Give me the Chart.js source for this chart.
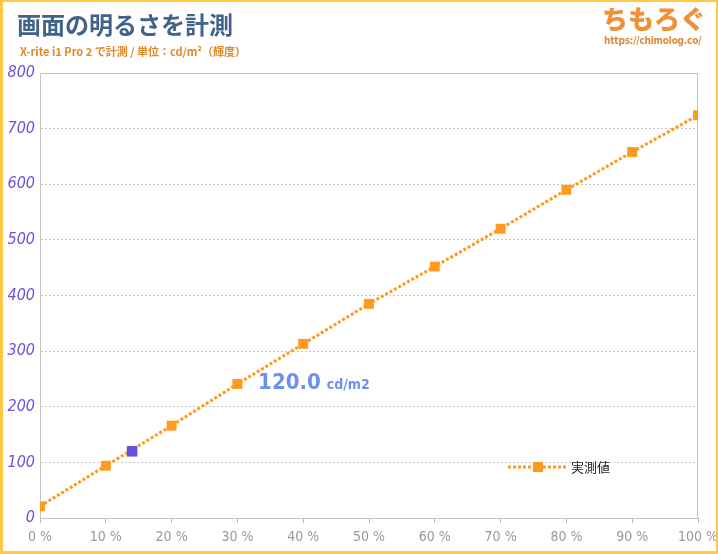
<!DOCTYPE html>
<html><head><meta charset="utf-8">
<script src="https://cdn.jsdelivr.net/npm/chart.js@4/dist/chart.umd.min.js"></script>
<style>
html,body{margin:0;padding:0;background:#fff;}
#wrap{position:relative;width:718px;height:554px;box-sizing:border-box;overflow:hidden;}
#frame{position:absolute;left:0;top:0;width:718px;height:554px;box-sizing:border-box;border:3px solid #FFC845;border-width:2px 2px 3px 3px;pointer-events:none;}
canvas{position:absolute;left:0;top:0;}
.t{position:absolute;white-space:nowrap;font-family:"Noto Sans CJK JP","Noto Sans",sans-serif;}
#title{left:17px;top:6px;font-size:24px;font-weight:700;color:#41628a;}
#sub{left:20px;top:43px;font-size:11px;font-weight:700;color:#e0882a;}
#logo{left:602px;top:-1px;font-size:26px;font-weight:900;color:#f0913a;}
#url{left:604px;top:35px;font-size:10px;letter-spacing:-0.2px;font-weight:700;color:#d98a3a;font-family:"DejaVu Sans Condensed","Roboto",sans-serif;}
</style></head>
<body><div id="wrap">
<canvas id="c" width="718" height="554"></canvas>
<div class="t" id="title">画面の明るさを計測</div>
<div class="t" id="sub">X-rite i1 Pro 2 で計測 / 単位：cd/m²（輝度）</div>
<div class="t" id="logo">ちもろぐ</div>
<div class="t" id="url">https://chimolog.co/</div>
<div id="frame"></div>
</div>
<script>
const xLevels = [0,10,20,30,40,50,60,70,80,90,100];
const measured = [21,94,166,241,313,385,452,520,590,658,724];
const seriesName = "実測値";
const highlightX = [14];
const highlightY = [120];
const highlightLabel = "120.0";
const highlightUnit = "cd/m2";

const ORANGE = "#ff9a1e";
const PURPLE = "#6a4fdc";
const NARROW = "'DejaVu Sans Condensed','Roboto Condensed','Roboto',sans-serif";

const overlay = {
  id:'overlay',
  afterDatasetsDraw(chart){
    const ctx = chart.ctx;
    const xs = chart.scales.x, ys = chart.scales.y;
    const px = xs.getPixelForValue(highlightX[0]);
    const py = ys.getPixelForValue(highlightY[0]);
    ctx.save();
    ctx.fillStyle = "#6f8ff0";
    ctx.textBaseline = "alphabetic";
    ctx.font = "bold 22px " + NARROW;
    const ax = px + 126, ay = py - 62;
    ctx.fillText(highlightLabel, ax, ay);
    const w = ctx.measureText(highlightLabel).width;
    ctx.font = "bold 14px " + NARROW;
    ctx.fillText(highlightUnit, ax + w + 6, ay);
    // legend
    const ly = 467;
    ctx.strokeStyle = ORANGE;
    ctx.lineWidth = 3;
    ctx.setLineDash([3,2]);
    ctx.beginPath(); ctx.moveTo(508, ly); ctx.lineTo(567, ly); ctx.stroke();
    ctx.setLineDash([]);
    ctx.fillStyle = ORANGE;
    ctx.fillRect(533, ly-5, 10, 10);
    ctx.fillStyle = "#222";
    ctx.font = "13px 'Noto Sans CJK JP',sans-serif";
    ctx.textBaseline = "middle";
    ctx.fillText(seriesName, 571, ly);
    ctx.restore();
  }
};

const bgPlugin = {
  id:'bg',
  beforeDraw(chart){
    const ctx = chart.ctx;
    ctx.save(); ctx.fillStyle = "#fff"; ctx.fillRect(0,0,chart.width,chart.height); ctx.restore();
  }
};

new Chart(document.getElementById('c'), {
  type:'scatter',
  data:{
    datasets:[
      {
        label: seriesName,
        data: xLevels.map((x,i)=>({x:x,y:measured[i]})),
        showLine:true,
        borderColor: ORANGE,
        backgroundColor: ORANGE,
        borderWidth:3,
        borderDash:[3,2],
        pointStyle:'rect',
        pointRadius:7,
        pointHoverRadius:7,
        pointBorderWidth:0,
        order:2
      },
      {
        label:'highlight',
        data: highlightX.map((x,i)=>({x:x,y:highlightY[i]})),
        showLine:false,
        backgroundColor: PURPLE,
        borderColor: PURPLE,
        pointStyle:'rect',
        pointRadius:7.5,
        pointBorderWidth:0,
        order:1
      }
    ]
  },
  options:{
    responsive:false,
    animation:false,
    layout:{padding:{top:73,left:0,right:20,bottom:0}},
    plugins:{legend:{display:false},tooltip:{enabled:false}},
    scales:{
      x:{
        type:'linear', min:0, max:100,
        border:{display:true,color:'#bbb',width:1},
        grid:{display:true, drawOnChartArea:false, drawTicks:true, tickLength:5, color:'#bbb'},
        ticks:{stepSize:10, color:'#999', padding:6,
          font:{family:NARROW, size:14},
          callback:(v)=>v+' %'},
        afterFit:(s)=>{s.height=36; s.paddingLeft=0; s.paddingRight=0;}
      },
      y:{
        min:0, max:800,
        border:{display:true,color:'#bbb',width:1,dash:[2,2]},
        grid:{color:'#c8c8c8', drawTicks:false, lineWidth:1},
        ticks:{stepSize:100, color:'#6a52e4', padding:5,
          font:{family:NARROW, size:16, style:'italic'}},
        afterFit:(s)=>{s.width=40; s.paddingTop=0; s.paddingBottom=0;}
      }
    }
  },
  plugins:[bgPlugin, overlay, {
    id:'gridstyle',
    beforeDatasetsDraw(chart){
      const {ctx, chartArea:a} = chart;
      ctx.save();
      ctx.strokeStyle='#c4c4c4'; ctx.lineWidth=1;
      ctx.strokeRect(a.left+0.5, a.top+0.5, a.right-a.left-1, a.bottom-a.top);
      ctx.restore();
    }
  }]
});
</script>
</body></html>
